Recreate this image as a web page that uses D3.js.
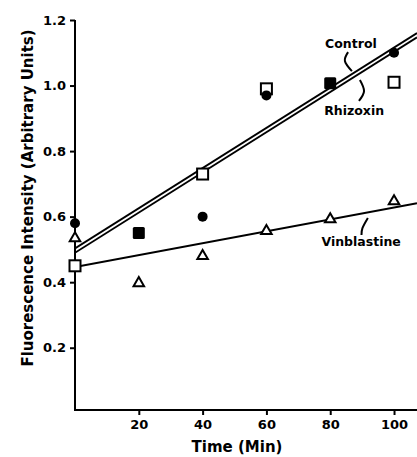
<!DOCTYPE html>
<html>
<head>
<meta charset="utf-8">
<script src="https://cdn.jsdelivr.net/npm/d3@7"></script>
<style>
  body { margin: 0; background: #fff; }
  svg { display: block; }
  text { font-family: "DejaVu Sans", sans-serif; font-weight: bold; fill: #000; }
</style>
</head>
<body>
<div id="chart"></div>
<script>
"use strict"

// time points (min)
var times = [0, 20, 40, 60, 80, 100]

var control_pts = [0.58, null, 0.60, 0.97, null, 1.10]      // filled circles
var rhizoxin_pts = [0.45, null, 0.73, 0.99, null, 1.01]     // open squares
var overlap_pts = [null, 0.55, null, null, 1.007, null]     // filled squares (both coincide)
var vinblastine_pts = [0.537, 0.40, 0.483, 0.559, 0.595, 0.65] // open triangles

// fitted lines, [time, value]
var control_fit = [[0, 0.503], [107.2, 1.160]]
var rhizoxin_fit = [[0, 0.490], [107.2, 1.147]]
var vinblastine_fit = [[0, 0.446], [107.2, 0.641]]

// axis ticks
var x_ticks = [20, 40, 60, 80, 100]
var y_ticks = [0.2, 0.4, 0.6, 0.8, 1.0, 1.2]

// labels with their leaders, in data units
var labels = [
    { text: "Control", t: 86.5, v: 1.115, leader: [[85.6, 1.102], [84.6, 1.075], [86.8, 1.044]] },
    { text: "Rhizoxin", t: 87.5, v: 0.91, leader: [[89.3, 1.017], [90.6, 0.983], [89.0, 0.953]] },
    { text: "Vinblastine", t: 89.7, v: 0.51, leader: [[91.8, 0.596], [90.1, 0.565], [89.8, 0.544]] }
]

var width = 417
var height = 457

var svg = d3.select("#chart").append("svg")
    .attr("width", width)
    .attr("height", height)

var x = d3.scaleLinear().domain([0, 107.2]).range([75, 417])
var y = d3.scaleLinear().domain([0.01, 1.2]).range([410, 20])

// axes
var xaxis = d3.axisBottom(x).tickValues(x_ticks).tickSize(5).tickPadding(5)
    .tickFormat(d3.format("d"))
var yaxis = d3.axisLeft(y).tickValues(y_ticks).tickSize(5).tickPadding(4)
    .tickFormat(d3.format(".1f"))

var gx = svg.append("g")
    .attr("transform", "translate(0," + y(0.01) + ")")
    .call(xaxis)
var gy = svg.append("g")
    .attr("transform", "translate(" + x(0) + ",0)")
    .call(yaxis)

svg.selectAll(".domain").attr("stroke", "#000").attr("stroke-width", 2)
gx.select(".domain").attr("d", "M" + (x(0) - 1) + ",0H" + width)
gy.select(".domain").attr("d", "M0," + y(0.01) + "V" + y(1.2))
svg.selectAll(".tick line").attr("stroke", "#000").attr("stroke-width", 2)
svg.selectAll(".tick text")
    .style("font-family", "'DejaVu Sans', sans-serif")
    .style("font-weight", "bold")
    .style("font-size", "13px")
    .attr("fill", "#000")

// axis titles
svg.append("text")
    .attr("x", 237)
    .attr("y", 452)
    .attr("text-anchor", "middle")
    .style("font-size", "15px")
    .text("Time (Min)")

svg.append("text")
    .attr("transform", "translate(33,198) rotate(-90)")
    .attr("text-anchor", "middle")
    .style("font-size", "15px")
    .text("Fluorescence Intensity (Arbitrary Units)")

// fitted lines
var linefunc = d3.line()
    .x(function (d) { return x(d[0]) })
    .y(function (d) { return y(d[1]) })

var plot = svg.append("g")
plot.append("clipPath").attr("id", "clip")
    .append("rect").attr("x", x(0)).attr("y", 0).attr("width", width).attr("height", height)

var fits = [control_fit, rhizoxin_fit, vinblastine_fit]
plot.selectAll("path.fit")
    .data(fits)
    .enter()
    .append("path")
    .attr("class", "fit")
    .attr("clip-path", "url(#clip)")
    .attr("d", linefunc)
    .attr("stroke", "#000")
    .attr("stroke-width", function (d, i) { return i < 2 ? 1.8 : 2 })
    .attr("fill", "none")

function pts(arr) {
    var out = []
    for (var i = 0; i < arr.length; i++) {
        if (arr[i] !== null) out.push({ t: times[i], v: arr[i] })
    }
    return out
}

// open squares
plot.selectAll("rect.rhiz")
    .data(pts(rhizoxin_pts))
    .enter()
    .append("rect")
    .attr("class", "rhiz")
    .attr("x", function (d) { return x(d.t) - 5.5 })
    .attr("y", function (d) { return y(d.v) - 5.5 })
    .attr("width", 11)
    .attr("height", 11)
    .attr("fill", "#fff")
    .attr("stroke", "#000")
    .attr("stroke-width", 2)

// filled squares
plot.selectAll("rect.both")
    .data(pts(overlap_pts))
    .enter()
    .append("rect")
    .attr("class", "both")
    .attr("x", function (d) { return x(d.t) - 6 })
    .attr("y", function (d) { return y(d.v) - 6 })
    .attr("width", 12)
    .attr("height", 12)
    .attr("rx", 1.5)
    .attr("fill", "#000")

// filled circles
plot.selectAll("circle.ctrl")
    .data(pts(control_pts))
    .enter()
    .append("circle")
    .attr("class", "ctrl")
    .attr("cx", function (d) { return x(d.t) })
    .attr("cy", function (d) { return y(d.v) })
    .attr("r", 5)
    .attr("fill", "#000")

// open triangles
var tri = d3.symbol().type(d3.symbolTriangle).size(48)
plot.selectAll("path.vin")
    .data(pts(vinblastine_pts))
    .enter()
    .append("path")
    .attr("class", "vin")
    .attr("transform", function (d) { return "translate(" + x(d.t) + "," + (y(d.v) + 1) + ")" })
    .attr("d", tri)
    .attr("fill", "#fff")
    .attr("stroke", "#000")
    .attr("stroke-width", 2)

// labels and leaders
var leaderfunc = d3.line()
    .x(function (d) { return x(d[0]) })
    .y(function (d) { return y(d[1]) })
    .curve(d3.curveNatural)

plot.selectAll("path.leader")
    .data(labels)
    .enter()
    .append("path")
    .attr("class", "leader")
    .attr("d", function (d) { return leaderfunc(d.leader) })
    .attr("fill", "none")
    .attr("stroke", "#000")
    .attr("stroke-width", 2)

plot.selectAll("text.lab")
    .data(labels)
    .enter()
    .append("text")
    .attr("class", "lab")
    .attr("x", function (d) { return x(d.t) })
    .attr("y", function (d) { return y(d.v) })
    .attr("text-anchor", "middle")
    .style("font-size", "12.5px")
    .text(function (d) { return d.text })
</script>
</body>
</html>
